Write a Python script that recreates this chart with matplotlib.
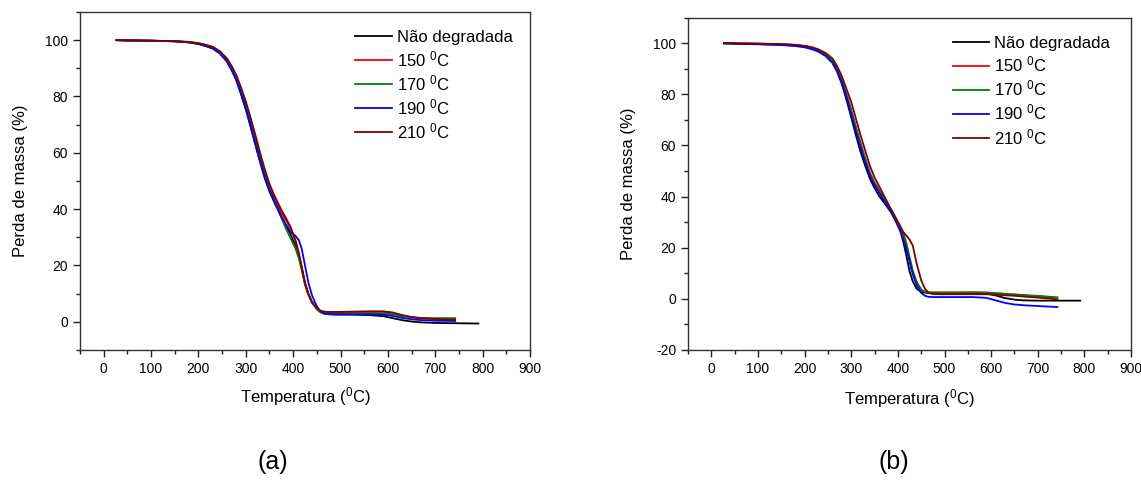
import matplotlib
matplotlib.use('Agg')
import matplotlib.pyplot as plt
from matplotlib.ticker import MultipleLocator

plt.rcParams['font.family'] = ['Liberation Sans', 'DejaVu Sans']
plt.rcParams['mathtext.fontset'] = 'custom'
plt.rcParams['mathtext.rm'] = 'Liberation Sans'
plt.rcParams['mathtext.it'] = 'Liberation Sans:italic'
plt.rcParams['axes.unicode_minus'] = False

# temperaturas (ponto extra em 791 so para a amostra nao degradada)
temp = [27, 50, 100, 150, 180, 200, 215, 230, 245, 260, 270, 280, 290, 300, 310, 320, 330, 340,
        350, 360, 375, 385, 395, 405, 412, 418, 425, 432, 440, 450, 458, 466, 475, 490, 520, 560,
        590, 610, 630, 650, 670, 700, 742]
temp_nd = temp + [791]

# (a)
a_nd = [100, 99.9, 99.8, 99.6, 99.2, 98.7, 98.0, 97.1, 95.4, 92.6, 89.6, 85.8, 80.8, 75.4, 69.3, 63.0, 56.8, 51.0,
        46.3, 42.5, 37.3, 34.2, 30.8, 27.0, 23.8, 19.5, 13.6, 10.0, 7.0, 4.6, 3.5, 3.0, 2.7, 2.6, 2.6, 2.4,
        2.0, 1.3, 0.6, 0.1, -0.2, -0.4, -0.5, -0.6]
a_150 = [100, 99.9, 99.8, 99.6, 99.3, 98.8, 98.2, 97.4, 95.8, 93.2, 90.4, 86.9, 82.3, 77.2, 71.3, 65.0, 58.8, 53.0,
         48.0, 44.0, 38.8, 36.0, 33.0, 28.5, 23.8, 18.8, 13.2, 9.6, 6.8, 4.7, 3.8, 3.5, 3.4, 3.4, 3.5, 3.6,
         3.6, 3.2, 2.3, 1.6, 1.2, 1.0, 0.6]
a_170 = [100, 99.9, 99.8, 99.7, 99.4, 99.0, 98.4, 97.6, 96.0, 93.2, 90.2, 86.5, 81.8, 76.3, 70.2, 64.0, 57.8, 52.0,
         47.0, 43.0, 37.0, 33.0, 29.5, 26.0, 22.5, 18.5, 13.5, 9.8, 6.8, 4.4, 3.3, 2.9, 2.9, 2.9, 3.0, 3.1,
         3.0, 2.7, 2.0, 1.6, 1.4, 1.3, 1.3]
a_190 = [100, 99.9, 99.8, 99.6, 99.2, 98.6, 97.9, 97.0, 95.3, 92.4, 89.4, 85.8, 81.0, 75.8, 69.8, 63.5, 57.2, 51.5,
         46.8, 43.0, 37.5, 34.5, 31.8, 30.5, 29.0, 26.0, 20.0, 14.0, 9.3, 5.5, 3.7, 2.9, 2.7, 2.6, 2.6, 2.6,
         2.5, 2.1, 1.4, 0.9, 0.6, 0.4, 0.3]
a_210 = [100, 99.9, 99.8, 99.6, 99.3, 98.8, 98.3, 97.6, 96.1, 93.6, 90.9, 87.6, 83.2, 78.3, 72.6, 66.5, 60.2, 54.2,
         49.0, 45.0, 39.8, 36.8, 33.5, 29.0, 24.5, 19.5, 14.0, 10.0, 7.0, 4.9, 3.9, 3.6, 3.5, 3.5, 3.6, 3.7,
         3.7, 3.3, 2.4, 1.7, 1.3, 1.0, 0.8]

# (b)
b_nd = [100, 99.9, 99.7, 99.4, 99.1, 98.7, 98.0, 96.9, 95.2, 92.3, 88.8, 84.0, 77.8, 71.0, 64.0, 57.5, 52.0, 47.0,
        43.3, 40.2, 36.5, 34.0, 31.0, 27.0, 22.0, 17.0, 10.8, 6.8, 4.0, 2.7, 2.4, 2.3, 2.3, 2.3, 2.3, 2.3,
        2.1, 1.3, 0.3, -0.3, -0.6, -0.7, -0.7, -0.7]
b_150 = [100, 99.9, 99.8, 99.6, 99.3, 98.9, 98.3, 97.3, 95.8, 93.3, 90.2, 85.8, 80.0, 74.0, 67.3, 61.0, 55.0, 49.5,
         45.5, 42.5, 38.0, 35.0, 31.5, 27.5, 24.5, 21.0, 15.5, 10.5, 6.5, 3.6, 2.8, 2.5, 2.5, 2.5, 2.5, 2.6,
         2.5, 2.2, 1.9, 1.6, 1.3, 1.0, 0.4]
b_170 = [100, 99.9, 99.8, 99.6, 99.3, 98.9, 98.3, 97.2, 95.6, 93.1, 89.8, 85.3, 79.5, 73.5, 66.8, 60.5, 54.5, 49.0,
         45.0, 42.0, 38.0, 35.2, 32.0, 28.5, 25.5, 22.0, 16.5, 11.0, 6.8, 3.6, 2.8, 2.5, 2.5, 2.5, 2.5, 2.5,
         2.4, 2.2, 2.0, 1.8, 1.5, 1.2, 0.6]
b_190 = [100, 99.8, 99.6, 99.3, 98.9, 98.4, 97.7, 96.7, 95.0, 92.3, 88.9, 84.3, 78.6, 72.0, 65.3, 59.0, 53.2, 48.0,
         44.5, 41.5, 37.0, 34.0, 30.5, 26.5, 23.0, 19.5, 14.5, 9.5, 5.5, 2.3, 1.2, 0.8, 0.7, 0.7, 0.7, 0.7,
         0.4, -0.6, -1.6, -2.2, -2.5, -2.8, -3.2]
b_210 = [100, 100, 99.9, 99.7, 99.4, 99.0, 98.5, 97.6, 96.2, 94.0, 91.0, 87.0, 82.0, 77.0, 70.5, 64.0, 58.0, 52.0,
         47.5, 44.0, 38.7, 35.0, 31.5, 28.3, 26.0, 24.8, 23.2, 20.8, 14.0, 7.2, 4.0, 2.3, 1.9, 1.8, 1.8, 1.8,
         1.8, 1.6, 1.4, 1.2, 0.9, 0.5, -0.2]

labels = ['Não degradada', '150 $^\\mathrm{0}$C', '170 $^\\mathrm{0}$C', '190 $^\\mathrm{0}$C', '210 $^\\mathrm{0}$C']
colors = ['#000000', '#ff0000', '#008000', '#0000ff', '#800000']

fig = plt.figure(figsize=(11.41, 4.93), dpi=100)
ax1 = fig.add_axes([0.0701, 0.2901, 0.3944, 0.6856])
ax2 = fig.add_axes([0.603, 0.2901, 0.3883, 0.674])

panels = [(ax1, [a_nd, a_150, a_170, a_190, a_210], (-10, 110), (0.611, 0.947), -0.105, -0.115),
          (ax2, [b_nd, b_150, b_170, b_190, b_210], (-20, 110), (0.597, 0.946), -0.113, -0.117)]

for ax, series, ylim, leg_pos, xlab_y, ylab_x in panels:
    for i in range(5):
        t = temp_nd if i == 0 else temp
        ax.plot(t, series[i], color=colors[i], lw=1.3, label=labels[i])
    ax.set_xlim(-50, 900)
    ax.set_ylim(*ylim)
    ax.xaxis.set_major_locator(MultipleLocator(100))
    ax.xaxis.set_minor_locator(MultipleLocator(50))
    ax.yaxis.set_major_locator(MultipleLocator(20))
    ax.yaxis.set_minor_locator(MultipleLocator(10))
    ax.tick_params(which='both', direction='out', top=False, right=False, labelsize=10, width=1.0, color='#222222')
    ax.tick_params(which='major', length=5)
    ax.tick_params(which='minor', length=2.7)
    for s in ax.spines.values():
        s.set_linewidth(1.0)
        s.set_color('#333333')
    ax.set_xlabel('Temperatura ($^\\mathrm{0}$C)', fontsize=12)
    ax.set_ylabel('Perda de massa (%)', fontsize=12)
    ax.xaxis.set_label_coords(0.5, xlab_y)
    ax.yaxis.set_label_coords(ylab_x, 0.5)
    ax.legend(loc='upper left', bbox_to_anchor=leg_pos, frameon=False, fontsize=12,
              handlelength=2.2, handletextpad=0.3, labelspacing=0.25, borderpad=0, borderaxespad=0)

fig.text(0.239, 0.063, '(a)', fontsize=18, ha='center', va='center')
fig.text(0.783, 0.063, '(b)', fontsize=18, ha='center', va='center')

plt.savefig('out.png', dpi=100)
plt.close()
